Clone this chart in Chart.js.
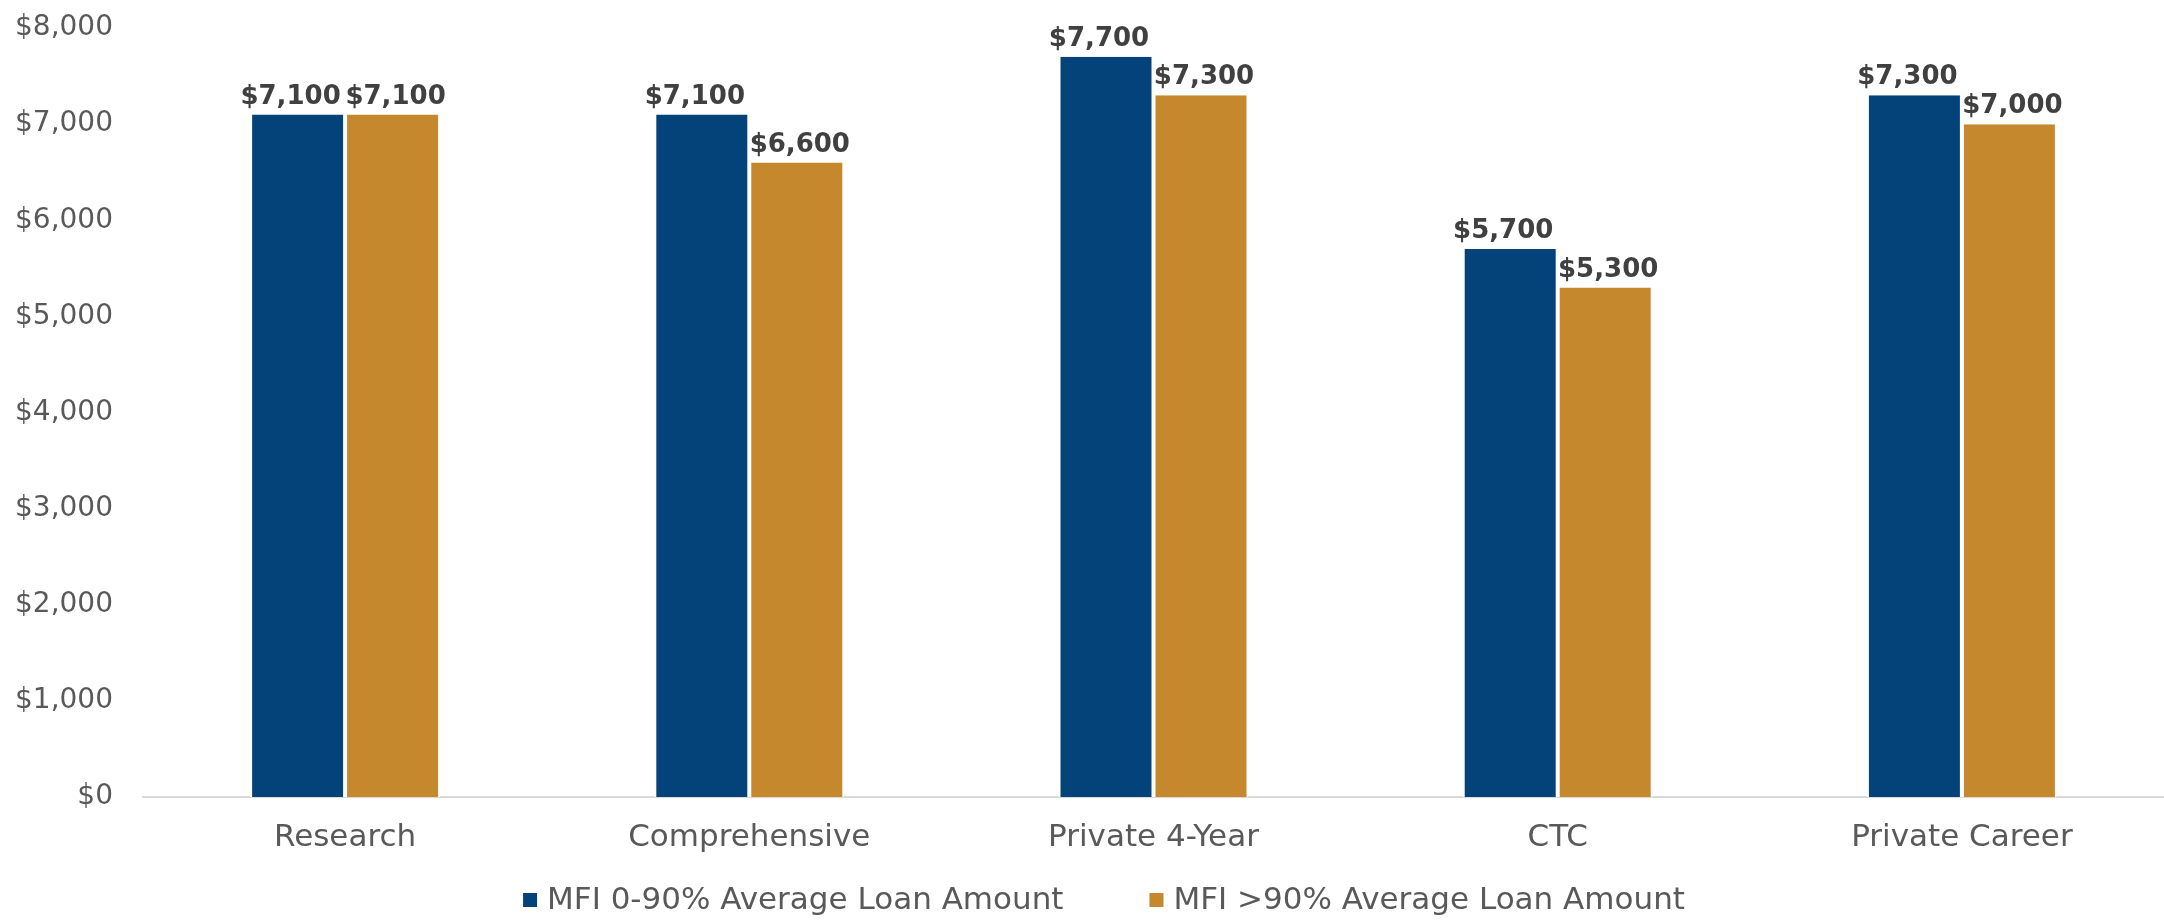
<!DOCTYPE html>
<html>
<head>
<meta charset="utf-8">
<script src="https://cdn.jsdelivr.net/npm/chart.js@4.4.1/dist/chart.umd.min.js"></script>
<style>
  html, body { margin: 0; padding: 0; background: #fff; }
  #wrap { width: 2164px; height: 923px; }
</style>
</head>
<body>
<div id="wrap"><canvas id="loanChart" width="2164" height="923"></canvas></div>
<script>
const categories = ["Research", "Comprehensive", "Private 4-Year", "CTC", "Private Career"];
const lowMfi = [7100, 7100, 7700, 5700, 7300];
const highMfi = [7100, 6600, 7300, 5300, 7000];
const seriesNames = ["MFI 0-90% Average Loan Amount", "MFI >90% Average Loan Amount"];
const seriesColors = ["#03437A", "#C5882C"];

const money = v => "$" + Number(v).toLocaleString("en-US");

// bold value labels on top of each bar (nudged apart a little like the original)
const valueLabels = {
    id: "valueLabels",
    afterDatasetsDraw(chart) {
        const ctx = chart.ctx;
        const nudge = [-7, 3];
        ctx.save();
        ctx.font = "bold 26px 'DejaVu Sans'";
        ctx.fillStyle = "#404040";
        ctx.textAlign = "center";
        ctx.textBaseline = "alphabetic";
        chart.data.datasets.forEach((ds, i) => {
            chart.getDatasetMeta(i).data.forEach((bar, j) => {
                ctx.fillText(money(ds.data[j]), bar.x + nudge[i], bar.y - 11);
            });
        });
        ctx.restore();
    }
};

// legend drawn by hand so the gap between the two entries matches the original
const bottomLegend = {
    id: "bottomLegend",
    afterDraw(chart) {
        const ctx = chart.ctx;
        const box = 14, gap = 10, spacing = 86, y = 900;
        ctx.save();
        ctx.font = "31px 'DejaVu Sans'";
        ctx.textBaseline = "middle";
        ctx.textAlign = "left";
        const widths = chart.data.datasets.map(ds => ctx.measureText(ds.label).width);
        const total = widths.reduce((a, w) => a + box + gap + w, 0) + spacing * (widths.length - 1);
        let x = chart.width / 2 + 22 - total / 2;
        chart.data.datasets.forEach((ds, i) => {
            ctx.fillStyle = ds.backgroundColor;
            ctx.fillRect(x, y - box / 2, box, box);
            ctx.fillStyle = "#595959";
            ctx.fillText(ds.label, x + box + gap, y + 1);
            x += box + gap + widths[i] + spacing;
        });
        ctx.restore();
    }
};

new Chart(document.getElementById("loanChart"), {
    type: "bar",
    data: {
        labels: categories,
        datasets: [
            { label: seriesNames[0], data: lowMfi, backgroundColor: seriesColors[0], borderColor: "#ffffff", borderWidth: { left: 2, right: 2 } },
            { label: seriesNames[1], data: highMfi, backgroundColor: seriesColors[1], borderColor: "#ffffff", borderWidth: { left: 2, right: 2 } }
        ]
    },
    options: {
        responsive: false,
        animation: false,
        layout: { autoPadding: false, padding: { top: 28, right: 0, bottom: 48, left: 0 } },
        datasets: { bar: { categoryPercentage: 0.47, barPercentage: 1.0 } },
        scales: {
            x: {
                grid: { display: false, drawTicks: false },
                border: { display: true, color: "#d9d9d9", width: 2 },
                ticks: { color: "#595959", font: { family: "DejaVu Sans", size: 31 }, padding: 22 },
                afterFit: s => { s.height = 78; }
            },
            y: {
                min: 0, max: 8000,
                grid: { display: false, drawTicks: false },
                border: { display: false },
                ticks: { stepSize: 1000, color: "#595959", font: { family: "DejaVu Sans", size: 28 }, padding: 30, callback: money },
                afterFit: s => { s.width = 143; s.paddingTop = 0; s.paddingBottom = 0; }
            }
        },
        plugins: {
            legend: { display: false },
            tooltip: { enabled: false }
        }
    },
    plugins: [valueLabels, bottomLegend]
});
</script>
</body>
</html>
